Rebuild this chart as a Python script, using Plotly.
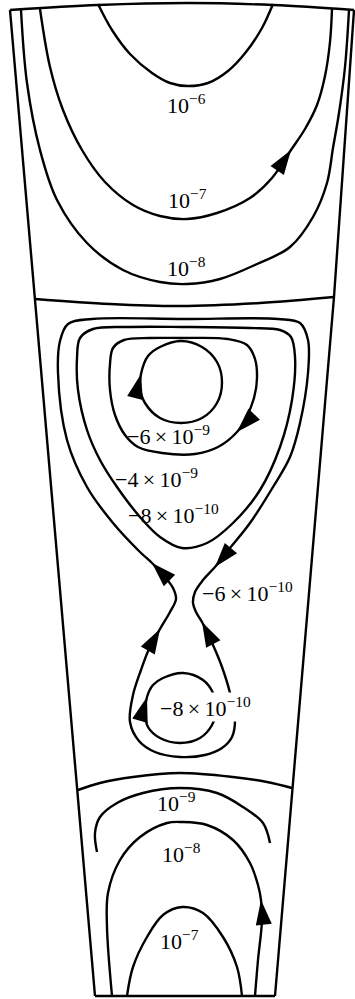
import math
import plotly.graph_objects as go

# ---- geometry of the tapered duct (pixel-like units, y grows downward) ----
top_edge = [(10, 10), (98, 5), (187, 3), (273, 5), (354, 10)]
left_wall = [(10, 10), (95, 996)]
right_wall = [(354, 10), (334, 297), (275, 996)]
bottom_edge = [(95, 996), (275, 996)]

# zero streamlines separating the eddies
div_upper = [(35, 299), (110, 304), (180, 306), (260, 303), (334, 297)]
div_lower = [(78, 790), (100, 783), (133, 777), (180, 773), (233, 777), (267, 782), (292, 788)]

# ---- upper cell: psi = 1e-6, 1e-7, 1e-8 ----
psi_top_1e6 = [(98, 4), (112, 30), (130, 54), (152, 73), (170, 83), (188, 86), (208, 83),
               (228, 71), (246, 52), (262, 28), (273, 4)]
psi_top_1e7 = [(40, 9), (50, 67), (63, 110), (82, 150), (105, 182), (133, 205), (160, 216),
               (187, 219), (217, 213), (250, 198), (272, 178), (291, 150), (305, 129),
               (317, 105), (325, 76), (330, 42), (332, 9)]
psi_top_1e8 = [(21, 10), (27, 83), (40, 150), (57, 200), (87, 243), (123, 270), (160, 282),
               (187, 284), (220, 279), (257, 264), (290, 247), (313, 217), (327, 183),
               (333, 148), (339, 113), (345, 67), (349, 10)]

# ---- middle (reversed) eddy ----
psi_mid_6e9 = [(181, 341), (202, 347), (217, 362), (222, 382), (217, 403), (202, 418),
               (181, 423), (160, 418), (145, 403), (140, 388), (141, 374), (148, 356),
               (160, 347), (181, 341)]
psi_mid_4e9 = [(180, 338), (228, 339), (247, 345), (255, 359), (257, 378), (254, 398),
               (246, 418), (237, 432), (218, 447), (195, 454), (162, 453), (138, 447),
               (125, 435), (115, 415), (110, 390), (110, 364), (113, 348), (124, 340),
               (150, 338), (180, 338)]
psi_mid_8e10 = [(182, 327), (250, 328), (280, 330), (291, 337), (295, 357), (292, 400),
                (280, 447), (260, 490), (233, 523), (207, 543), (182, 548), (160, 537),
                (140, 517), (117, 487), (100, 460), (87, 430), (78, 390), (77, 358),
                (80, 338), (93, 329), (130, 327), (182, 327)]
psi_mid_6e10 = [(185, 319), (278, 319), (300, 323), (308, 340), (308, 373), (300, 423),
                (290, 457), (273, 487), (250, 523), (230, 548), (215, 567), (203, 580),
                (195, 592), (193, 603), (196, 612), (202, 622), (213, 645), (222, 667),
                (230, 693), (235, 720), (232, 737), (222, 748), (205, 755), (180, 757),
                (155, 752), (139, 741), (130, 722), (133, 695), (141, 670), (149, 649),
                (160, 629), (170, 612), (176, 599), (173, 588), (164, 576), (152, 563),
                (140, 552), (113, 523), (87, 487), (67, 440), (58, 373), (60, 341),
                (68, 324), (92, 319), (185, 319)]
psi_low_8e10 = [(183, 673), (203, 680), (213, 693), (216, 710), (212, 725), (200, 738),
                (180, 743), (160, 738), (148, 727), (145, 712), (147, 697), (153, 685),
                (163, 678), (183, 673)]

# ---- lower cell: psi = 1e-9, 1e-8, 1e-7 ----
psi_bot_1e9 = [(97, 852), (95, 833), (100, 817), (117, 803), (143, 793), (180, 788),
               (217, 793), (243, 807), (263, 823), (270, 843)]
psi_bot_1e8 = [(112, 996), (107, 927), (108, 893), (120, 860), (140, 837), (167, 823),
               (182, 822), (207, 825), (233, 840), (250, 863), (258, 885), (261, 900),
               (262, 920), (258, 960), (255, 996)]
psi_bot_1e7 = [(127, 996), (133, 967), (147, 937), (163, 915), (182, 907), (203, 913),
               (223, 937), (237, 967), (242, 996)]

# flow-direction arrows: (curve, index of tip point, +1 toward next point / -1 toward previous)
arrows = [
    (psi_top_1e7, 11, +1),
    (psi_mid_6e9, 10, +1),
    (psi_mid_4e9, 7, +1),
    (psi_mid_6e10, 10, +1),
    (psi_mid_6e10, 15, -1),
    (psi_mid_6e10, 30, +1),
    (psi_mid_6e10, 35, +1),
    (psi_low_8e10, 10, +1),
    (psi_bot_1e8, 11, -1),
]

# contour labels: (text, left x, y of digit centre, white backing)
labels = [
    ("10<sup>−6</sup>", 166, 107, False),
    ("10<sup>−7</sup>", 167, 202, False),
    ("10<sup>−8</sup>", 166, 270, False),
    ("−6\u2009×\u200910<sup>−9</sup>", 126, 438, False),
    ("−4\u2009×\u200910<sup>−9</sup>", 114, 481, False),
    ("−8\u2009×\u200910<sup>−10</sup>", 127, 517, False),
    ("−6\u2009×\u200910<sup>−10</sup>", 201, 595, False),
    ("−8\u2009×\u200910<sup>−10</sup>", 159, 710, True),
    ("10<sup>−9</sup>", 156, 805, False),
    ("10<sup>−8</sup>", 161, 856, False),
    ("10<sup>−7</sup>", 159, 943, False),
]

LINE = dict(color="black", width=2.4)
FONT = dict(family="Liberation Serif", size=22, color="black")

fig = go.Figure()


def add_curve(pts, shape="spline"):
    xs = [p[0] for p in pts]
    ys = [p[1] for p in pts]
    fig.add_trace(go.Scatter(x=xs, y=ys, mode="lines",
                             line=dict(color=LINE["color"], width=LINE["width"],
                                       shape=shape, smoothing=1.0),
                             hoverinfo="skip", showlegend=False))


for wall in (left_wall, right_wall, bottom_edge):
    add_curve(wall, shape="linear")
for c in (top_edge, div_upper, div_lower,
          psi_top_1e6, psi_top_1e7, psi_top_1e8,
          psi_mid_6e9, psi_mid_4e9, psi_mid_8e10, psi_mid_6e10, psi_low_8e10,
          psi_bot_1e9, psi_bot_1e8, psi_bot_1e7):
    add_curve(c)

# arrowheads oriented along the local tangent of each streamline
ax, ay, ang = [], [], []
for curve, i, sgn in arrows:
    p0 = curve[max(i - 1, 0)]
    p1 = curve[min(i + 1, len(curve) - 1)]
    dx, dy = (p1[0] - p0[0]) * sgn, (p1[1] - p0[1]) * sgn
    ax.append(curve[i][0])
    ay.append(curve[i][1])
    ang.append(math.degrees(math.atan2(dx, -dy)))
fig.add_trace(go.Scatter(x=ax, y=ay, mode="markers",
                         marker=dict(symbol="arrow", size=26, color="black",
                                     angle=ang, line=dict(width=0)),
                         hoverinfo="skip", showlegend=False))

for text, x, y, backed in labels:
    fig.add_annotation(x=x, y=y, text=text, showarrow=False,
                       xanchor="left", yanchor="middle", yshift=3,
                       font=FONT, bgcolor="white" if backed else "rgba(0,0,0,0)",
                       borderpad=0)

fig.update_layout(
    width=355, height=999,
    margin=dict(l=0, r=0, t=0, b=0),
    paper_bgcolor="white", plot_bgcolor="white",
    xaxis=dict(range=[0, 355], visible=False, fixedrange=True),
    yaxis=dict(range=[999, 0], visible=False, fixedrange=True),
    showlegend=False,
)

fig.write_html("out.html")
